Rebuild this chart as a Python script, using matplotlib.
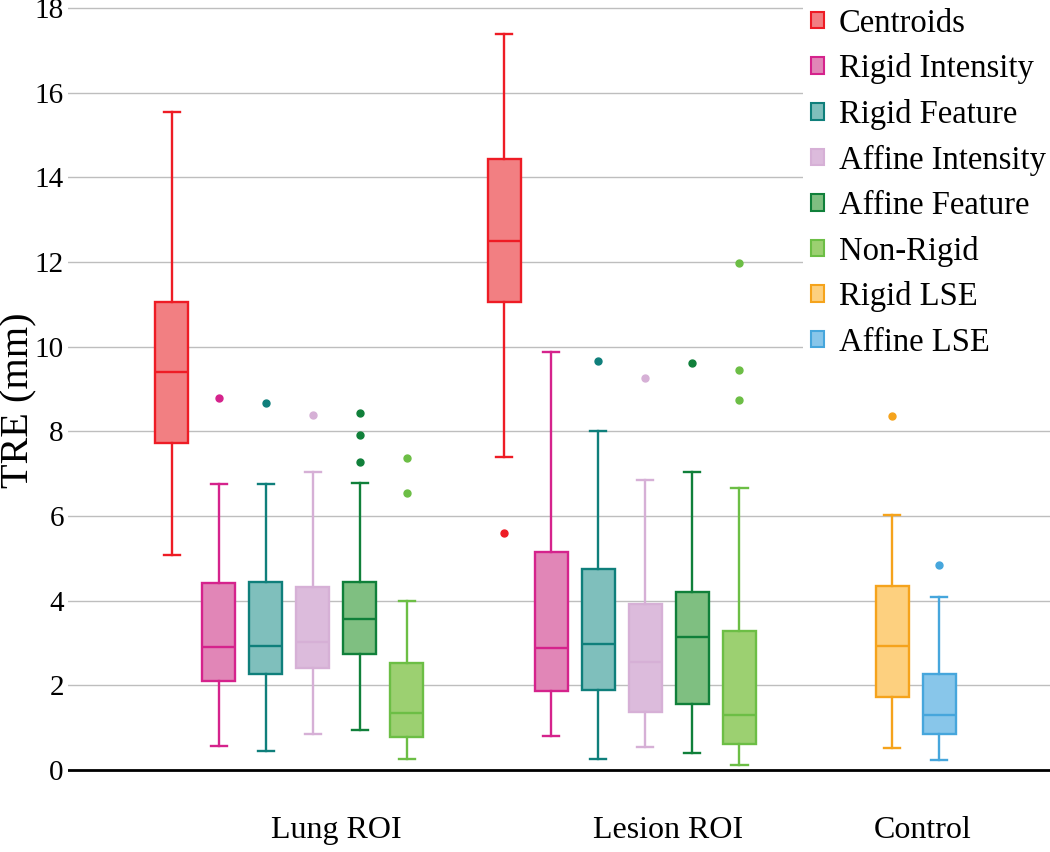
import matplotlib
matplotlib.use("Agg")
import matplotlib.pyplot as plt
from matplotlib.patches import Patch

plt.rcParams['font.family'] = ['Liberation Serif', 'DejaVu Serif']

methods = ['Centroids', 'Rigid Intensity', 'Rigid Feature', 'Affine Intensity',
           'Affine Feature', 'Non-Rigid', 'Rigid LSE', 'Affine LSE']
edge_colors = ['#EE1C25', '#D5238C', '#0F7F7B', '#D6B0D6',
               '#10803A', '#6CBE45', '#F5A31C', '#46A6DC']
fill_colors = ['#F27F82', '#E186B7', '#7FBFBC', '#DCBBDC',
               '#7FBF81', '#9CD071', '#FDD07F', '#88C6EA']
groups = ['Lung ROI', 'Lesion ROI', 'Control']

# [whisker low, q1, median, q3, whisker high]
lung_stats = [
    [5.08, 7.72, 9.40, 11.05, 15.55],
    [0.56, 2.09, 2.91, 4.42, 6.76],
    [0.45, 2.27, 2.93, 4.44, 6.76],
    [0.86, 2.42, 3.03, 4.32, 7.03],
    [0.94, 2.73, 3.57, 4.43, 6.79],
    [0.26, 0.77, 1.35, 2.52, 3.98],
]
lung_fliers = [[], [8.79], [8.68], [8.39], [8.44, 7.92, 7.27], [7.38, 6.54]]

lesion_stats = [
    [7.39, 11.06, 12.49, 14.43, 17.39],
    [0.80, 1.86, 2.89, 5.15, 9.87],
    [0.27, 1.88, 2.98, 4.75, 8.01],
    [0.54, 1.36, 2.56, 3.92, 6.84],
    [0.40, 1.56, 3.15, 4.21, 7.05],
    [0.12, 0.62, 1.31, 3.28, 6.66],
]
lesion_fliers = [[5.61], [], [9.67], [9.27], [9.61], [11.98, 9.44, 8.74]]

control_stats = [
    [0.52, 1.73, 2.94, 4.35, 6.02],
    [0.24, 0.84, 1.30, 2.27, 4.09],
]
control_fliers = [[8.36], [4.84]]

# layout (slot units)
group_base = [0, 7.07, 15.32]
label_pos = [3.5, 10.55, 15.98]


def to_dict(s, fl):
    return dict(whislo=s[0], q1=s[1], med=s[2], q3=s[3], whishi=s[4], fliers=fl)


fig = plt.figure(figsize=(10.5, 8.52), dpi=100)
ax = fig.add_axes([68 / 1050, 77.8 / 852, 982 / 1050, 0.9067])

for i, name in enumerate(methods):
    c = edge_colors[i]
    stats = []
    pos = []
    if i < 6:
        stats.append(to_dict(lung_stats[i], lung_fliers[i]))
        pos.append(group_base[0] + i)
        stats.append(to_dict(lesion_stats[i], lesion_fliers[i]))
        pos.append(group_base[1] + i)
    else:
        stats.append(to_dict(control_stats[i - 6], control_fliers[i - 6]))
        pos.append(group_base[2] + i - 6)
    ax.bxp(stats, positions=pos, widths=0.7, capwidths=0.35, patch_artist=True,
           manage_ticks=False,
           boxprops=dict(facecolor=fill_colors[i], edgecolor=c, linewidth=1.7),
           whiskerprops=dict(color=c, linewidth=1.7),
           capprops=dict(color=c, linewidth=1.7),
           medianprops=dict(color=c, linewidth=1.7),
           flierprops=dict(marker='o', markerfacecolor=c, markeredgecolor=c,
                           markersize=5))

ax.set_xlim(-2.21, 18.68)
ax.set_ylim(-0.1, 18.15)
ax.set_yticks(range(0, 19, 2))
ax.set_xticks(label_pos)
ax.set_xticklabels(groups, fontsize=23)
ax.tick_params(axis='both', length=0)
ax.tick_params(axis='y', labelsize=21, pad=3)
ax.tick_params(axis='x', pad=30)
for sp in ax.spines.values():
    sp.set_visible(False)
ax.yaxis.grid(True, color='#BEBEBE', linewidth=1.0)
ax.set_axisbelow(True)
ax.axhline(0, color='black', linewidth=2, zorder=1)

fig.text(19 / 1050, 0.53, 'TRE (mm)', rotation=90, va='center', ha='center',
         fontsize=29)

handles = [Patch(facecolor=f, edgecolor=e, linewidth=1.5)
           for f, e in zip(fill_colors, edge_colors)]
fig.legend(handles, methods, loc='upper left', bbox_to_anchor=(803 / 1050, 1.0),
           fontsize=23.5, frameon=True, facecolor='white', edgecolor='none',
           framealpha=1, fancybox=False, handlelength=0.4, handleheight=0.4,
           handletextpad=0.45, labelspacing=0.45, borderpad=0.25, borderaxespad=0)

fig.savefig('out.png', dpi=100)
